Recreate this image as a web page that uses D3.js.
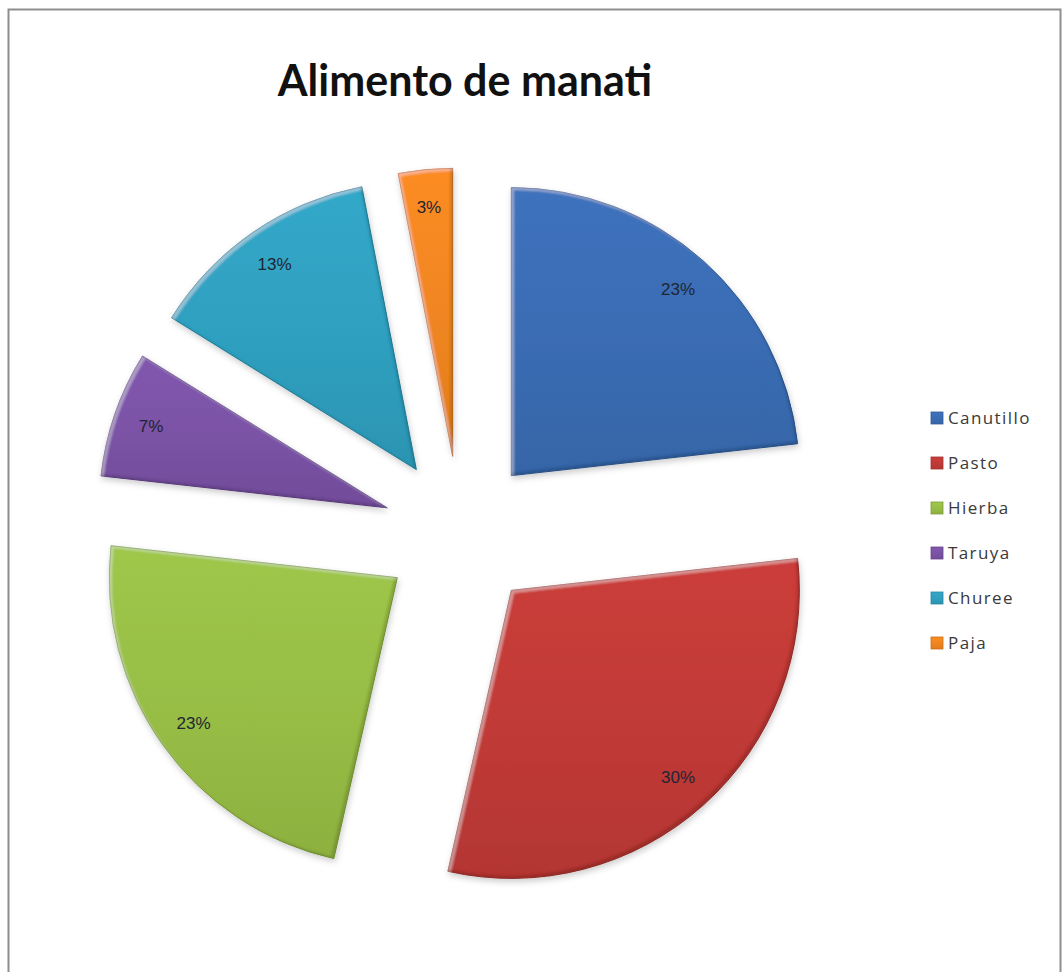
<!DOCTYPE html>
<html>
<head>
<meta charset="utf-8">
<script src="https://cdn.jsdelivr.net/npm/d3@7"></script>
<style>
  html, body { margin: 0; padding: 0; background: #ffffff; }
  svg { display: block; }
</style>
</head>
<body>
<svg id="chart" width="1063" height="972"></svg>
<script>
// Food sources of the manatee (share of diet)
const categories = ["Canutillo", "Pasto", "Hierba", "Taruya", "Churee", "Paja"];
const values = [23, 30, 23, 7, 13, 3];
const colors = ["#3a6cb3", "#c03a37", "#97bd45", "#7a52a5", "#2f9fbf", "#ef8520"];
const title = "Alimento de manati";

const svg = d3.select("#chart");

// Chart frame
svg.append("rect")
  .attr("x", 8.5).attr("y", 9.5)
  .attr("width", 1052).attr("height", 1000)
  .attr("fill", "#ffffff")
  .attr("stroke", "#8e8e8e")
  .attr("stroke-width", 2);

const defs = svg.append("defs");

// Beveled look: light top-left rim, dark bottom-right rim, soft drop shadow
const f = defs.append("filter").attr("id", "bevel")
  .attr("x", "-10%").attr("y", "-10%").attr("width", "130%").attr("height", "130%");
f.append("feOffset").attr("in", "SourceAlpha").attr("dx", 3).attr("dy", 3).attr("result", "offA");
f.append("feComposite").attr("in", "SourceAlpha").attr("in2", "offA").attr("operator", "out").attr("result", "tlBand");
f.append("feGaussianBlur").attr("in", "tlBand").attr("stdDeviation", 1.3).attr("result", "tlBlur");
f.append("feFlood").attr("flood-color", "#ffffff").attr("flood-opacity", 0.28).attr("result", "white");
f.append("feComposite").attr("in", "white").attr("in2", "tlBlur").attr("operator", "in").attr("result", "hl0");
f.append("feComposite").attr("in", "hl0").attr("in2", "SourceAlpha").attr("operator", "in").attr("result", "hl");
f.append("feOffset").attr("in", "SourceAlpha").attr("dx", -3).attr("dy", -3).attr("result", "offB");
f.append("feComposite").attr("in", "SourceAlpha").attr("in2", "offB").attr("operator", "out").attr("result", "brBand");
f.append("feGaussianBlur").attr("in", "brBand").attr("stdDeviation", 1.3).attr("result", "brBlur");
f.append("feFlood").attr("flood-color", "#000000").attr("flood-opacity", 0.3).attr("result", "black");
f.append("feComposite").attr("in", "black").attr("in2", "brBlur").attr("operator", "in").attr("result", "sh0");
f.append("feComposite").attr("in", "sh0").attr("in2", "SourceAlpha").attr("operator", "in").attr("result", "sh");
f.append("feGaussianBlur").attr("in", "SourceAlpha").attr("stdDeviation", 3).attr("result", "dsBlur");
f.append("feOffset").attr("in", "dsBlur").attr("dx", 1).attr("dy", 3).attr("result", "dsOff");
f.append("feFlood").attr("flood-color", "#000000").attr("flood-opacity", 0.2).attr("result", "dsCol");
f.append("feComposite").attr("in", "dsCol").attr("in2", "dsOff").attr("operator", "in").attr("result", "ds");
const m = f.append("feMerge");
["ds", "SourceGraphic", "hl", "sh"].forEach(k => m.append("feMergeNode").attr("in", k));

// Vertical shading gradient per colour
colors.forEach((c, i) => {
  const g = defs.append("linearGradient").attr("id", "grad" + i)
    .attr("x1", 0).attr("y1", 0).attr("x2", 0).attr("y2", 1);
  g.append("stop").attr("offset", "0%").attr("stop-color", d3.color(c).brighter(0.15));
  g.append("stop").attr("offset", "55%").attr("stop-color", c);
  g.append("stop").attr("offset", "100%").attr("stop-color", d3.color(c).darker(0.2));
});

// Title
svg.append("text")
  .attr("x", 465).attr("y", 96)
  .attr("text-anchor", "middle")
  .attr("font-family", "Lato, 'Open Sans', sans-serif")
  .attr("font-weight", "bold")
  .attr("font-size", 43)
  .attr("fill", "#111111")
  .text(title);

// Exploded pie
const cx = 460, cy = 533, radius = 288, explode = 77, labelR = 250;
const pie = d3.pie().sort(null).value(d => d)(values);
const arc = d3.arc().innerRadius(0).outerRadius(radius);

const g = svg.append("g").attr("transform", `translate(${cx},${cy})`);

const slices = g.selectAll("g.slice").data(pie).enter().append("g")
  .attr("class", "slice")
  .attr("transform", d => {
    const a = (d.startAngle + d.endAngle) / 2;
    return `translate(${explode * Math.sin(a)},${-explode * Math.cos(a)})`;
  });

slices.append("path")
  .attr("d", arc)
  .attr("fill", (d, i) => `url(#grad${i})`)
  .attr("stroke", (d, i) => d3.color(colors[i]).darker(0.6))
  .attr("stroke-width", 1)
  .attr("filter", "url(#bevel)");

slices.append("text")
  .attr("transform", d => {
    const a = (d.startAngle + d.endAngle) / 2;
    return `translate(${labelR * Math.sin(a)},${-labelR * Math.cos(a)})`;
  })
  .attr("text-anchor", "middle")
  .attr("dy", "0.35em")
  .attr("font-family", "'Liberation Sans', Arial, sans-serif")
  .attr("font-size", 17)
  .attr("fill", "#1e2533")
  .text(d => Math.round(d.value) + "%");

// Legend
const legend = svg.append("g").attr("transform", "translate(931,0)");
const rowY = d3.scalePoint().domain(categories).range([418, 643]);
const items = legend.selectAll("g.item").data(categories).enter().append("g")
  .attr("class", "item")
  .attr("transform", d => `translate(0,${rowY(d)})`);
items.append("rect")
  .attr("x", 0).attr("y", -6)
  .attr("width", 12).attr("height", 12)
  .attr("fill", (d, i) => `url(#grad${i})`)
  .attr("stroke", (d, i) => d3.color(colors[i]).darker(0.5))
  .attr("stroke-width", 0.8);
items.append("text")
  .attr("x", 17).attr("dy", "0.36em")
  .attr("font-family", "'Open Sans', sans-serif")
  .attr("font-size", 17)
  .attr("letter-spacing", 1.4)
  .attr("fill", "#3a3a3a")
  .text(d => d);
</script>
</body>
</html>
